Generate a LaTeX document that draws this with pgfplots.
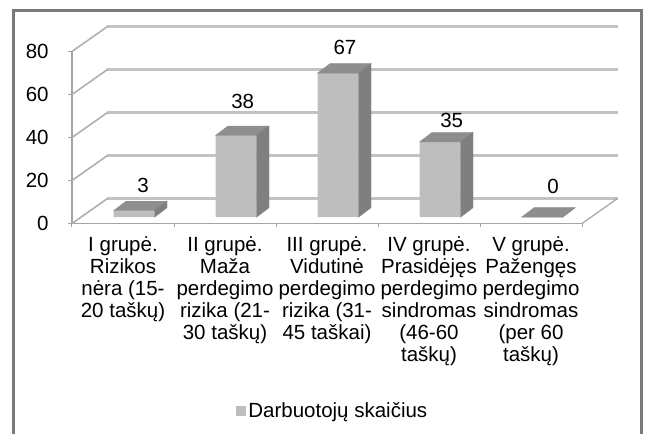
\documentclass[border=0pt]{standalone}
\usepackage{fontspec}
\setmainfont{Liberation Sans}
\usepackage{pgfplots}
\pgfplotsset{compat=1.18}
\usepackage{pgfplotstable}
\definecolor{barfront}{HTML}{BEBEBE}
\definecolor{barside}{HTML}{7F7F7F}
\definecolor{bartop}{HTML}{8E8E8E}
\definecolor{gridc}{HTML}{C2C2C2}
\definecolor{axisc}{HTML}{A4A4A4}
\definecolor{framec}{HTML}{7A7A7A}
\pgfdeclareplotmark{empty3d}{}
\newcommand\lblfont{\fontsize{20.5}{22}\selectfont}

\pgfplotstableread{
x v xo yo
0 3 20 32
1 38 17.7 40
2 67 18 32
3 35 22.7 27.5
4 0 22 37.5
}\datatab

\begin{document}
\begin{tikzpicture}[x=1pt,y=1pt]
\useasboundingbox (0,0) rectangle (646,434);
\draw[framec, line width=3pt] (13,-5) -- (13,423.5) -- (641.5,423.5) -- (641.5,-5);
\begin{axis}[
  at={(72pt,210.5pt)}, anchor=south west,
  x=102pt, y=2.15pt,
  xmin=-0.5, xmax=4.5, ymin=0, ymax=80,
  clip=false,
  axis lines*=left,
  axis line style={axisc, line width=1.2pt},
  /pgf/number format/assume math mode=true,
  every tick label/.append style={font=\lblfont, text=black},
  ytick={0,20,40,60,80},
  yticklabel style={anchor=east, inner sep=0pt, xshift=-19.7pt},
  tick align=outside,
  major tick length=3.5pt,
  tick style={axisc, line width=1pt},
  xtick={-0.5,0.5,1.5,2.5,3.5,4.5},
  xticklabels={},
  extra x ticks={0,1,2,3,4},
  extra x tick labels={{I grupė.\\Rizikos\\nėra (15-\\20 taškų)},
    {II grupė.\\Maža\\perdegimo\\rizika (21-\\30 taškų)},
    {III grupė.\\Vidutinė\\perdegimo\\rizika (31-\\45 taškai)},
    {IV grupė.\\Prasidėjęs\\perdegimo\\sindromas\\(46-60\\taškų)},
    {V grupė.\\Pažengęs\\perdegimo\\sindromas\\(per 60\\taškų)}},
  extra x tick style={major tick length=0pt, tick style={draw=none}},
  xticklabel style={align=center, anchor=north, inner sep=0pt, yshift=-13pt},
  legend style={at={(axis description cs:0.512,-1.09)}, anchor=center,
    draw=none, fill=none, font=\lblfont, inner sep=0pt, nodes={inner sep=2.5pt}},
]
% back wall grid lines
\addplot[gridc, line width=2.2pt, forget plot] coordinates {(-0.152,11.63) (4.848,11.63)};
\addplot[gridc, line width=2.2pt, forget plot] coordinates {(-0.152,31.63) (4.848,31.63)};
\addplot[gridc, line width=2.2pt, forget plot] coordinates {(-0.152,51.63) (4.848,51.63)};
\addplot[gridc, line width=2.2pt, forget plot] coordinates {(-0.152,71.63) (4.848,71.63)};
\addplot[gridc, line width=2.2pt, forget plot] coordinates {(-0.152,91.63) (4.848,91.63)};
% side wall diagonals
\addplot[gridc!90!black, line width=1.6pt, forget plot] coordinates {(-0.5,0) (-0.152,11.63)};
\addplot[gridc!90!black, line width=1.6pt, forget plot] coordinates {(-0.5,20) (-0.152,31.63)};
\addplot[gridc!90!black, line width=1.6pt, forget plot] coordinates {(-0.5,40) (-0.152,51.63)};
\addplot[gridc!90!black, line width=1.6pt, forget plot] coordinates {(-0.5,60) (-0.152,71.63)};
\addplot[gridc!90!black, line width=1.6pt, forget plot] coordinates {(-0.5,80) (-0.152,91.63)};
% right floor edge
\addplot[axisc, line width=1.2pt, forget plot] coordinates {(4.5,0) (4.848,11.63)};
% bar front faces
\addplot[ybar, bar width=41pt, bar shift=0pt, fill=barfront, draw=none,
  xshift=11pt, yshift=6.3pt, forget plot] table[x=x,y=v]{\datatab};
% bar top and side faces
\addplot[forget plot, only marks, mark=empty3d, scatter,
  visualization depends on={\thisrow{v} \as \vv},
  scatter/@pre marker code/.code={%
    \pgfmathsetmacro\ya{6.3-\vv*2.15}%
    \pgfmathsetmacro\yb{15.8-\vv*2.15}%
    \fill[bartop] (-9.5pt,6.3pt) -- (31.5pt,6.3pt) -- (44pt,15.8pt) -- (3pt,15.8pt) -- cycle;
    \fill[barside] (31.5pt,6.3pt) -- (44pt,15.8pt) -- (44pt,\yb pt) -- (31.5pt,\ya pt) -- cycle;
  },
  scatter/@post marker code/.code={}]
  table[x=x,y=v]{\datatab};
% data labels
\addplot[forget plot, only marks, mark=empty3d, point meta=explicit symbolic,
  visualization depends on={\thisrow{xo} \as \xo},
  visualization depends on={\thisrow{yo} \as \yo},
  nodes near coords,
  every node near coord/.append style={anchor=center, xshift=\xo pt, yshift=\yo pt,
    font=\lblfont, text=black, inner sep=0pt}]
  table[x=x,y=v,meta=v]{\datatab};
\addlegendimage{legend image code/.code={\fill[barfront] (0pt,-4.5pt) rectangle (9pt,4.5pt);}}
\addlegendentry{Darbuotojų skaičius}
\end{axis}
\end{tikzpicture}
\end{document}
